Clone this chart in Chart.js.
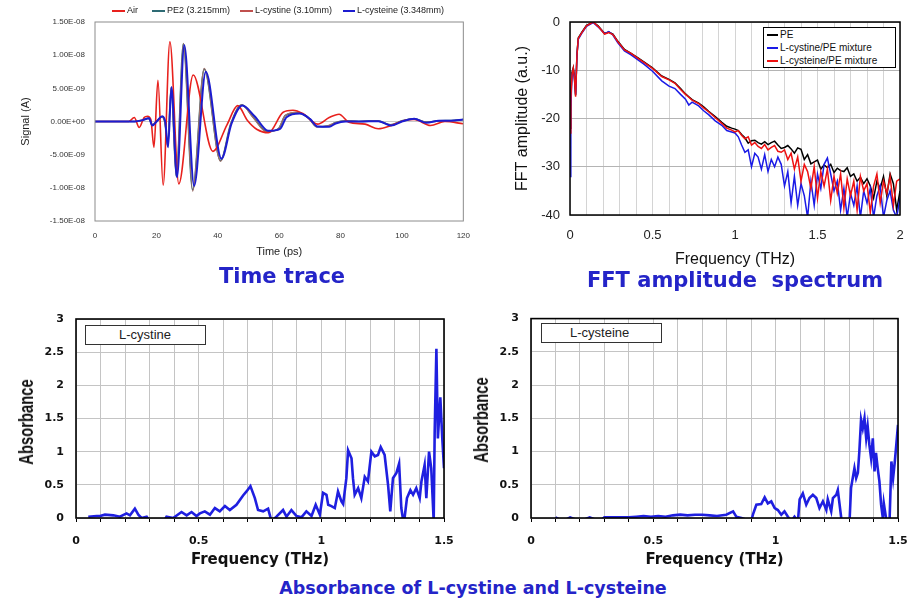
<!DOCTYPE html>
<html>
<head>
<meta charset="utf-8">
<script src="https://cdn.jsdelivr.net/npm/chart.js@4.4.0/dist/chart.umd.min.js"></script>
<style>
  body { margin: 0; background: #fff; width: 924px; height: 607px; position: relative; overflow: hidden;
         font-family: "Liberation Sans", Arial, sans-serif; }
  .pane { position: absolute; }
  canvas { display: block; }
  .title { position: absolute; font-family: "DejaVu Sans", sans-serif; font-weight: bold; color: #2424c8;
           white-space: nowrap; transform: translateX(-50%); line-height: 1; }
  .leg { position: absolute; font-size: 9px; color: #222; white-space: nowrap; line-height: 1; }
  .sw { display: inline-block; vertical-align: middle; height: 2px; margin-right: 2px; }
  .fftleg { position: absolute; left: 763px; top: 27px; width: 131px; height: 39px; border: 1px solid #000;
            background: #fff; font-size: 10px; color: #111; }
  .fftleg div { position: absolute; left: 3px; white-space: nowrap; line-height: 1; }
  .absleg { position: absolute; width: 119px; height: 18px; border: 1.5px solid #333; background: #fff;
            font-size: 13px; color: #222; line-height: 18px; }
  .ytitle { position: absolute; font-size: 20px; font-weight: bold; color: #111; white-space: nowrap; line-height: 1;
            transform: translate(-50%, -50%) rotate(-90deg) scaleX(0.74); }
</style>
</head>
<body>

<div class="pane" style="left:0;top:0"><canvas id="timeChart" width="480" height="265"></canvas></div>
<div class="pane" style="left:480px;top:0"><canvas id="fftChart" width="444" height="275"></canvas></div>
<div class="pane" style="left:0;top:300px"><canvas id="cystineChart" width="470" height="275"></canvas></div>
<div class="pane" style="left:460px;top:300px"><canvas id="cysteineChart" width="464" height="275"></canvas></div>

<!-- time trace legend -->
<div class="leg" style="left:112px;top:6px"><span class="sw" style="width:13px;background:#e8211d"></span>Air</div>
<div class="leg" style="left:152px;top:6px"><span class="sw" style="width:13px;background:#2e6b74"></span>PE2 (3.215mm)</div>
<div class="leg" style="left:240px;top:6px"><span class="sw" style="width:13px;background:#c0504d"></span>L-cystine (3.10mm)</div>
<div class="leg" style="left:343px;top:6px"><span class="sw" style="width:12px;background:#1c1cd0"></span>L-cysteine (3.348mm)</div>

<!-- FFT legend -->
<div class="fftleg">
  <div style="top:2px"><span class="sw" style="width:11px;background:#000"></span>PE</div>
  <div style="top:15px"><span class="sw" style="width:11px;background:#1a1ae6"></span>L-cystine/PE mixture</div>
  <div style="top:28px"><span class="sw" style="width:11px;background:#ee1111"></span>L-cysteine/PE mixture</div>
</div>

<div class="absleg" style="left:85px;top:325px"><span style="margin-left:33px">L-cystine</span></div>
<div class="absleg" style="left:541px;top:323px"><span style="margin-left:28px">L-cysteine</span></div>

<div class="ytitle" style="left:26px;top:422px">Absorbance</div>
<div class="ytitle" style="left:481px;top:420px">Absorbance</div>

<div class="title" style="left:282px;top:266px;font-size:21px">Time trace</div>
<div class="title" style="left:735px;top:270px;font-size:21px">FFT amplitude&nbsp; spectrum</div>
<div class="title" style="left:473px;top:580px;font-size:17.5px">Absorbance of L-cystine and L-cysteine</div>

<script>
// ---- time trace, signal in units of 1e-9 A ----
const tAir = [0, 11, 12.8, 14.4, 16, 17.1, 18.2, 19.2, 20.5, 22.2, 24.4, 27.3, 32, 38.4, 43, 46.5, 49.6, 52.8,
  56.5, 61.3, 64.5, 67.7, 72.5, 76.3, 79.5, 82.7, 88, 92.3, 96.5, 100.8, 104, 109.3, 114, 120];
const sAir = [0, 0, 0.6, -0.9, 0.6, 0.8, 0.3, -3.9, 6.2, -9.6, 12.0, -9.4, 7.0, -4.5, -0.5, 2.4, 0.2, -1.2,
  -1.7, 1.4, 1.7, 1.2, -0.4, 0.6, 1.1, -0.1, -0.4, -1.1, -0.6, 0.15, 0.3, -0.6, 0, -0.35];

const tSample = [0, 13, 15.5, 17.5, 18.6, 20.2, 21.8, 22.8, 23.7, 24.8, 26.5, 28.8, 31.8, 35.6, 40.9, 44.2, 47.8,
  51.5, 56, 59.8, 62, 66, 69.5, 72.3, 76, 78.2, 81.4, 86, 92, 96.3, 100, 104, 108, 112, 116, 120];
const sPE2 = [0, 0, 0.2, 0.5, -0.5, 0.1, 0.7, -0.2, -3.7, 5.1, -8.3, 11.7, -10.3, 7.9, -5.9, -0.4, 2.5,
  0.7, -1.5, -1.1, 0.9, 1.3, 0.6, -0.8, -0.7, -0.2, 0.1, 0, 0.1, -0.5, 0.1, 0.4, -0.1, 0.1, 0.15, 0.3];
const sCystine = [0, 0, 0.2, 0.5, -0.5, 0.1, 0.7, -0.2, -3.6, 5.0, -8.2, 11.8, -10.5, 8.0, -6.0, -0.5, 2.5,
  0.6, -1.6, -1.0, 0.9, 1.4, 0.5, -0.8, -0.6, -0.2, 0.1, 0, 0.1, -0.5, 0.1, 0.4, -0.1, 0.1, 0.1, 0.3];

const tCysteine = [0, 13, 15.5, 17.6, 18.7, 20.3, 21.9, 22.9, 23.8, 24.9, 26.7, 29.1, 32.3, 36.1, 41.2, 44.5, 48,
  52, 56.5, 60.3, 62.4, 66.7, 70, 72.5, 76.3, 78.4, 81.6, 86, 92.3, 96.5, 100, 104, 108, 112, 116, 120];
const sCysteine = [0, 0, 0.2, 0.5, -0.6, 0.1, 0.8, -0.1, -3.9, 5.2, -8.4, 11.5, -9.7, 7.5, -5.6, -0.3, 2.4,
  0.8, -1.4, -1.1, 0.65, 1.2, 0.4, -0.76, -0.8, -0.3, 0, 0, 0.05, -0.6, 0, 0.4, -0.2, 0.1, 0.1, 0.3];

// ---- FFT amplitude spectrum ----
const fftFreq = [0, 0.005, 0.012, 0.02, 0.027, 0.034, 0.042, 0.05, 0.07, 0.1, 0.14, 0.17, 0.21, 0.235, 0.26,
  0.29, 0.33, 0.37, 0.41, 0.45, 0.5, 0.556, 0.6, 0.636, 0.67, 0.7, 0.72, 0.74, 0.78, 0.81, 0.84, 0.88, 0.92,
  0.95, 0.98,
  1.00, 1.02, 1.04, 1.06, 1.08, 1.10, 1.12, 1.14, 1.16, 1.18, 1.20, 1.22, 1.24, 1.26, 1.28, 1.30, 1.32, 1.34,
  1.36, 1.38, 1.40, 1.42, 1.44, 1.46, 1.48, 1.50, 1.52, 1.54, 1.56, 1.58, 1.60, 1.62, 1.64, 1.66, 1.68, 1.70,
  1.72, 1.74, 1.76, 1.78, 1.80, 1.82, 1.84, 1.86, 1.88, 1.90, 1.92, 1.94, 1.96, 1.98, 2.00];
const fftPE = [-22, -15, -10.5, -9.5, -11.3, -15.2, -6.8, -3.3, -2.2, -0.7, 0, -0.8, -2.4, -2.1, -2.5,
  -4.0, -5.7, -6.5, -7.4, -8.3, -9.5, -11.2, -11.9, -12.6, -13.8, -14.9, -15.5, -16.1, -16.8, -17.6, -18.5,
  -19.6, -20.8, -21.6, -22.0,
  -22.2, -22.5, -23.3, -24.0, -25.1, -24.6, -24.5, -25.0, -25.3, -24.8, -25.4, -25.0, -24.7, -25.5, -26.2,
  -26.0, -25.6, -26.3, -27.2, -26.1, -26.4, -28.5, -27.5, -29.4, -29.0, -28.6, -30.5, -29.6, -30.2, -29.5,
  -31.2, -30.3, -30.8, -31.0, -30.2, -32.0, -31.5, -33.0, -32.2, -33.5, -32.5, -34.0, -36.5, -33.0, -34.5,
  -32.0, -36.0, -31.5, -33.5, -39.0, -35.0];
const fftCystine = [-32, -18, -11, -10, -12, -15, -7, -3.6, -2.4, -0.9, -0.1, -1.0, -2.4, -2.0, -2.7,
  -4.3, -6.0, -6.8, -7.8, -8.8, -10.2, -12.2, -13.3, -13.8, -15.0, -16.0, -17.2, -16.6, -17.4, -18.4, -19.2,
  -20.5, -21.4, -22.5, -22.8,
  -23.0, -23.8, -25.5, -27.0, -26.5, -30.0, -27.2, -28.0, -30.5, -27.5, -31.0, -28.5, -30.0, -28.0, -29.5,
  -34.0, -31.0, -37.5, -32.0, -38.0, -33.5, -36.0, -40.5, -33.0, -38.0, -31.5, -34.5, -29.5, -28.2, -31.5,
  -35.0, -33.0, -39.0, -34.5, -40.5, -35.5, -38.0, -34.0, -40.5, -35.0, -37.5, -34.5, -40.5, -36.0, -34.0,
  -40.5, -37.0, -35.0, -39.0, -40.5, -36.5];
const fftCysteine = [-23, -16, -11, -9.6, -11.5, -15.5, -7, -3.4, -2.3, -0.8, 0, -0.9, -2.5, -2.2, -2.6,
  -4.1, -5.8, -6.5, -7.5, -8.4, -9.6, -11.3, -12.0, -12.7, -14.0, -15.0, -15.6, -16.2, -16.9, -17.8, -18.6,
  -19.8, -21.0, -22.0, -22.4,
  -22.8, -22.5, -23.5, -24.2, -23.8, -25.5, -25.0, -25.8, -26.2, -25.4, -26.5, -26.0, -25.6, -26.8, -27.0,
  -26.5, -28.5, -27.2, -30.5, -28.0, -33.0, -29.5, -31.0, -34.5, -30.0, -36.5, -31.0, -34.0, -30.5, -37.0,
  -32.0, -35.5, -31.5, -38.5, -32.5, -36.0, -33.0, -39.0, -32.0, -35.0, -33.5, -39.5, -34.0, -31.5, -37.5,
  -33.0, -35.5, -32.0, -38.0, -33.0, -32.5];

// ---- absorbance ----
const absCystineFreq = [0.05, 0.084, 0.098, 0.118, 0.152, 0.179, 0.206, 0.22, 0.24, 0.254, 0.267, 0.288, 0.31,
  0.33, 0.35, 0.369, 0.396, 0.43, 0.451, 0.471, 0.491, 0.505, 0.525, 0.546, 0.566, 0.586, 0.607, 0.627, 0.654,
  0.681, 0.695, 0.711, 0.729, 0.742, 0.763, 0.783, 0.797, 0.817, 0.844, 0.858, 0.878, 0.899, 0.919, 0.939, 0.96,
  0.977, 0.994, 1.007, 1.021, 1.028, 1.041, 1.055, 1.068, 1.082, 1.089, 1.102, 1.109, 1.123, 1.129, 1.136, 1.15,
  1.163, 1.177, 1.19, 1.204, 1.218, 1.231, 1.242, 1.258, 1.272, 1.281, 1.292, 1.306, 1.317, 1.326, 1.336, 1.349,
  1.363, 1.374, 1.387, 1.401, 1.408, 1.421, 1.428, 1.439, 1.448, 1.458, 1.462, 1.469, 1.475, 1.485, 1.493, 1.5];
const absCystine = [0.02, 0.03, 0.03, 0.05, 0.04, 0.02, 0.07, 0.04, 0.14, 0.05, 0, 0.02, -0.1, -0.05, -0.1,
  0.02, 0, 0.09, 0.04, 0.09, 0.03, 0.07, 0.1, 0.05, 0.15, 0.1, 0.18, 0.12, 0.2, 0.34, 0.4, 0.48, 0.3, 0.12, 0.1,
  0.14, -0.05, 0.02, 0.12, 0.02, 0.12, 0.03, 0.01, 0.1, 0.03, 0.2, 0.05, 0.38, 0.35, 0.2, 0.18, 0.15, 0.4, 0.25,
  0.21, 0.6, 1.02, 0.9, 0.6, 0.35, 0.45, 0.3, 0.62, 0.55, 1.0, 0.93, 0.95, 1.07, 0.95, 0.5, 0.1, 0.6, 0.68, 0.82,
  0.15, -0.1, 0.3, 0.42, 0.35, 0.45, 0.3, 0.55, 0.8, 0.3, 1.0, 0.75, -0.05, 1.3, 2.55, 1.2, 1.82, 1.2, 0.75];

const absCysteineFreq = [0.1, 0.13, 0.16, 0.2, 0.24, 0.28, 0.3, 0.4, 0.43, 0.46, 0.49, 0.52, 0.55, 0.58, 0.61,
  0.64, 0.67, 0.7, 0.73, 0.76, 0.798, 0.826, 0.839, 0.86, 0.9, 0.907, 0.921, 0.941, 0.955, 0.968, 0.982, 0.996,
  1.009, 1.023, 1.036, 1.05, 1.064, 1.077, 1.091, 1.098, 1.111, 1.125, 1.138, 1.152, 1.166, 1.179, 1.193, 1.207,
  1.213, 1.227, 1.234, 1.248, 1.254, 1.268, 1.288, 1.302, 1.308, 1.322, 1.329, 1.336, 1.342, 1.349, 1.356, 1.363,
  1.37, 1.376, 1.383, 1.39, 1.397, 1.404, 1.41, 1.417, 1.424, 1.431, 1.438, 1.442, 1.451, 1.465, 1.473, 1.48,
  1.487, 1.493, 1.5];
const absCysteine = [0.01, -0.05, 0.01, -0.05, 0.01, -0.05, 0.01, 0.01, 0.02, 0.03, 0.02, 0.03, 0.02, 0.04,
  0.05, 0.04, 0.05, 0.05, 0.04, 0.03, 0.05, 0.1, 0.02, 0, -0.05, 0.05, 0.2, 0.21, 0.31, 0.22, 0.25, 0.15, 0.12,
  0.05, 0.1, 0.02, -0.05, 0.02, -0.05, 0.28, 0.37, 0.2, 0.3, 0.35, 0.3, 0.15, 0.25, 0.12, 0.28, 0.1, 0.3, 0.35,
  0.42, 0, -0.1, -0.05, 0.45, 0.75, 0.6, 0.68, 1.0, 1.48, 1.35, 1.5, 1.2, 1.38, 1.1, 0.9, 1.2, 0.7, 0.98, 0.75,
  0.55, 0.2, 0, 0.22, 0, -0.1, 0.85, 0.6, 0.85, 1.1, 1.4];

Chart.defaults.font.family = '"Liberation Sans", Arial, sans-serif';

// box round the plot area
const framePlugin = {
  id: 'frame',
  defaults: { color: '#888', width: 1 },
  afterDatasetsDraw(chart, args, opts) {
    const { ctx, chartArea: a } = chart;
    ctx.save();
    ctx.strokeStyle = opts.color;
    ctx.lineWidth = opts.width;
    ctx.strokeRect(a.left, a.top, a.right - a.left, a.bottom - a.top);
    ctx.restore();
  }
};
Chart.register(framePlugin);

const xy = (xs, ys) => xs.map((x, i) => ({ x: x, y: ys[i] }));

function sci(v) {
  if (Math.abs(v) < 1e-6) return '0.00E+00';
  const parts = (v * 1e-9).toExponential(2).toUpperCase().split('E');
  const sign = parts[1][0] === '-' ? '-' : '+';
  return parts[0] + 'E' + sign + parts[1].replace(/[+-]/, '').padStart(2, '0');
}

// labels only on the 0.5 steps, grid every 0.1
function halfStep(v) {
  if (Math.abs(v * 2 - Math.round(v * 2)) > 1e-6) return '';
  return String(Math.round(v * 10) / 10);
}

const noLegend = { legend: { display: false }, tooltip: { enabled: false } };

// Time trace
new Chart(document.getElementById('timeChart'), {
  type: 'line',
  data: {
    datasets: [
      { label: 'Air', data: xy(tAir, sAir), borderColor: '#e8211d', borderWidth: 1.6, order: 1 },
      { label: 'PE2 (3.215mm)', data: xy(tSample, sPE2), borderColor: '#2e6b74', borderWidth: 1.6, order: 3 },
      { label: 'L-cystine (3.10mm)', data: xy(tSample, sCystine), borderColor: '#a0706a', borderWidth: 1.2, order: 2 },
      { label: 'L-cysteine (3.348mm)', data: xy(tCysteine, sCysteine), borderColor: '#1c1cd0', borderWidth: 2, order: 0 }
    ]
  },
  options: {
    responsive: false, animation: false,
    layout: { padding: { left: 0, right: 10, top: 22, bottom: 0 } },
    elements: { point: { radius: 0 }, line: { cubicInterpolationMode: 'monotone' } },
    plugins: Object.assign({ frame: { color: '#8c8c8c', width: 1 } }, noLegend),
    scales: {
      x: {
        type: 'linear', min: 0, max: 120,
        ticks: { stepSize: 20, color: '#333', font: { size: 8 }, padding: 10 },
        grid: { display: false, drawTicks: false }, border: { display: false },
        title: { display: true, text: 'Time (ps)', color: '#222', font: { size: 11 }, padding: { top: 0, bottom: 6 } },
        afterFit: s => { s.height = 44; }
      },
      y: {
        min: -15, max: 15,
        ticks: { stepSize: 5, callback: sci, color: '#333', font: { size: 8 }, padding: 10 },
        grid: { drawTicks: false, color: c => (c.tick && c.tick.value === 0) ? '#c8c8c8' : 'rgba(0,0,0,0)' },
        border: { display: false },
        title: { display: true, text: 'Signal (A)', color: '#222', font: { size: 11 }, padding: { top: 19, bottom: 0 } },
        afterFit: s => { s.width = 95; }
      }
    }
  }
});

// FFT amplitude spectrum
new Chart(document.getElementById('fftChart'), {
  type: 'line',
  data: {
    datasets: [
      { label: 'PE', data: xy(fftFreq, fftPE), borderColor: '#000', borderWidth: 1.5, order: 2 },
      { label: 'L-cystine/PE mixture', data: xy(fftFreq, fftCystine), borderColor: '#1a1ae6', borderWidth: 1.5, order: 1 },
      { label: 'L-cysteine/PE mixture', data: xy(fftFreq, fftCysteine), borderColor: '#ee1111', borderWidth: 1.5, order: 0 }
    ]
  },
  options: {
    responsive: false, animation: false,
    layout: { padding: { left: 0, right: 24, top: 22, bottom: 0 } },
    elements: { point: { radius: 0 }, line: { tension: 0 } },
    plugins: Object.assign({ frame: { color: '#000', width: 1.5 } }, noLegend),
    scales: {
      x: {
        type: 'linear', min: 0, max: 2,
        ticks: { stepSize: 0.1, autoSkip: false, maxRotation: 0, callback: halfStep, color: '#222', font: { size: 13 }, padding: 13 },
        grid: { drawTicks: false, color: '#d4d4d4' }, border: { display: false },
        title: { display: true, text: 'Frequency (THz)', color: '#111', font: { size: 16 }, padding: { top: 0, bottom: 6 } },
        afterFit: s => { s.height = 60; }
      },
      y: {
        min: -40, max: 0,
        ticks: { stepSize: 10, color: '#222', font: { size: 13 }, padding: 10 },
        grid: { drawTicks: false, color: '#b4b4b4' }, border: { display: false },
        title: { display: true, text: 'FFT amplitude (a.u.)', color: '#111', font: { size: 16 }, padding: { top: 33, bottom: 0 } },
        afterFit: s => { s.width = 90; }
      }
    }
  }
});

// Absorbance panels (y title is the rotated HTML label)
function absChart(id, freq, values, yAxisWidth, rightPad, topPad) {
  return new Chart(document.getElementById(id), {
    type: 'line',
    data: { datasets: [{ data: xy(freq, values), borderColor: '#1f1fe0', borderWidth: 2.6 }] },
    options: {
      responsive: false, animation: false,
      layout: { padding: { left: 0, right: rightPad, top: topPad, bottom: 0 } },
      elements: { point: { radius: 0 }, line: { tension: 0 } },
      plugins: Object.assign({ frame: { color: '#000', width: 1.6 } }, noLegend),
      scales: {
        x: {
          type: 'linear', min: 0, max: 1.5,
          ticks: { stepSize: 0.1, autoSkip: false, maxRotation: 0, callback: halfStep, color: '#111',
                   font: { family: '"DejaVu Sans", sans-serif', size: 11, weight: 'bold' }, padding: 13 },
          grid: { color: '#c4c4c4', tickLength: 4, tickColor: '#000' }, border: { display: false },
          title: { display: true, text: 'Frequency (THz)', color: '#111',
                   font: { family: '"DejaVu Sans", sans-serif', size: 15, weight: 'bold' }, padding: { top: 0, bottom: 6 } },
          afterFit: s => { s.height = 57; }
        },
        y: {
          min: 0, max: 3,
          ticks: { stepSize: 0.5, callback: v => String(Math.round(v * 10) / 10), color: '#111',
                   font: { family: '"DejaVu Sans", sans-serif', size: 11, weight: 'bold' }, padding: 12 },
          grid: { drawTicks: false, color: '#c4c4c4' }, border: { display: false },
          afterFit: s => { s.width = yAxisWidth; }
        }
      }
    }
  });
}

absChart('cystineChart', absCystineFreq, absCystine, 76, 26, 19);
absChart('cysteineChart', absCysteineFreq, absCysteine, 71, 26, 18);
</script>
</body>
</html>
